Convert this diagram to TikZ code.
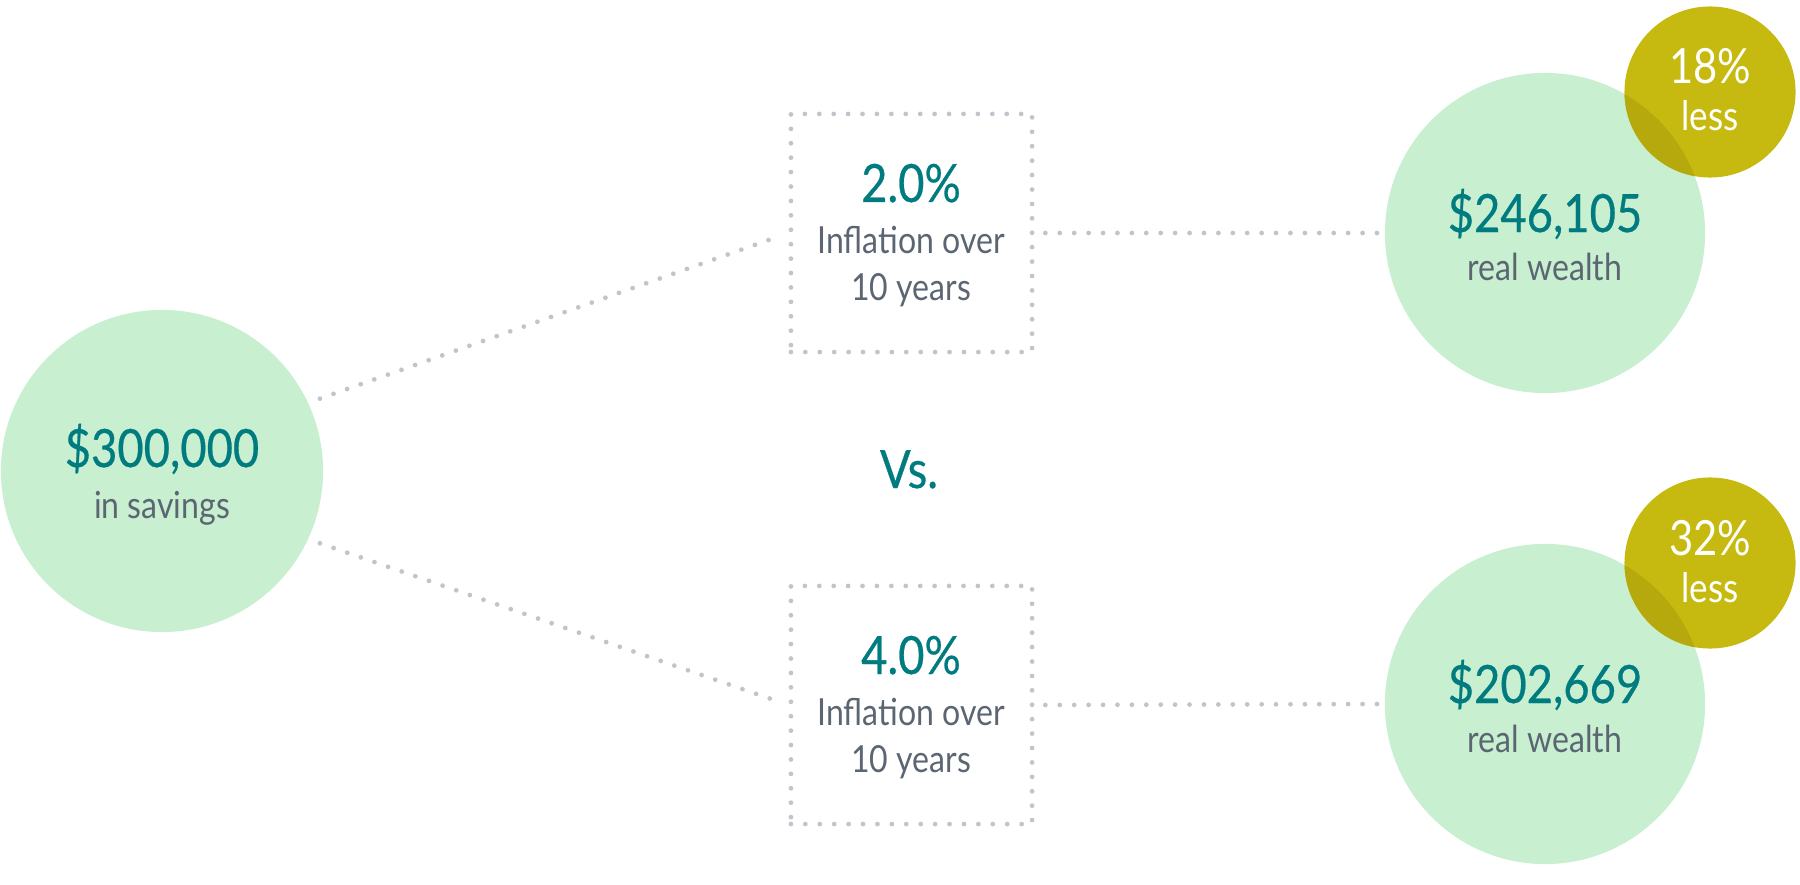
\documentclass[tikz,border=0pt]{standalone}
\usepackage{fontspec}
\setmainfont{Lato}[FakeStretch=0.86]
\newfontfamily\amountfont{Lato}[FakeStretch=0.86, FakeBold=0.5]
\usetikzlibrary{calc}
\definecolor{mintGreen}{HTML}{C8EFD0}
\definecolor{tealText}{HTML}{007B7F}
\definecolor{slateText}{HTML}{5B6672}
\definecolor{oliveYellow}{HTML}{C6BA10}
\definecolor{oliveDark}{HTML}{B5A90D}
\definecolor{dotGray}{HTML}{C0C4CC}

\begin{document}
\begin{tikzpicture}[x=0.01cm, y=-0.01cm,
    amount/.style={font=\amountfont\fontsize{15}{16}\selectfont, text=tealText, anchor=base, inner sep=0pt},
    caption/.style={font=\fontsize{10.6}{12}\selectfont, text=slateText, anchor=base, inner sep=0pt},
    badgenum/.style={font=\fontsize{13.8}{15}\selectfont, text=white, anchor=base, inner sep=0pt},
    badgetext/.style={font=\fontsize{11.6}{13}\selectfont, text=white, anchor=base, inner sep=0pt},
    wealth/.style={circle, fill=mintGreen, inner sep=0pt},
    badge/.style={circle, fill=oliveYellow, inner sep=0pt, minimum size=1.71cm},
    dotline/.style={draw=dotGray, line width=1.35pt, line cap=round, dash pattern=on 0pt off 4.1pt},
    ratebox/.style={dotline, rectangle, minimum width=2.41cm, minimum height=2.38cm, inner sep=0pt}]
    \useasboundingbox (0,0) rectangle (1800,885);

    % circles
    \node[wealth, minimum size=3.22cm] (save) at (162,471) {};
    \node[wealth, minimum size=3.2cm] (high) at (1545,233) {};
    \node[wealth, minimum size=3.2cm] (low) at (1545,704) {};
    \node[badge] (cutHigh) at (1710,92) {};
    \node[badge] (cutLow) at (1710,563) {};
    \begin{scope}
        \clip (high.center) circle (160);
        \fill[oliveDark] (cutHigh.center) circle (85.5);
    \end{scope}
    \begin{scope}
        \clip (low.center) circle (160);
        \fill[oliveDark] (cutLow.center) circle (85.5);
    \end{scope}

    % inflation boxes
    \node[ratebox] (rateHigh) at (911.5,233) {};
    \node[ratebox] (rateLow) at (911.5,705) {};

    % connectors
    \draw[dotline, shorten <=3.4pt, shorten >=2pt] (save.25) -- (rateHigh.west);
    \draw[dotline, shorten <=3.4pt, shorten >=2pt] (save.-25) -- (rateLow.west);
    \draw[dotline, shorten <=3.1pt, shorten >=0.5pt] (rateHigh.east) -- (high.west);
    \draw[dotline, shorten <=3.1pt, shorten >=0.5pt] (rateLow.east) -- (low.west);

    % texts
    \node[amount] (saveNum) at ($(save)+(0,-4)$) {\$300,000};
    \node[caption] (saveTxt) at ($(save)+(0,47)$) {in savings};
    \node[amount] (rateHighNum) at (911,202) {2.0\%};
    \node[caption] (rateHighTxt) at (911,253) {Inflation over};
    \node[caption] (rateHighYrs) at (911,300) {10 years};
    \node[amount] (rateLowNum) at (911,674) {4.0\%};
    \node[caption] (rateLowTxt) at (911,725) {Inflation over};
    \node[caption] (rateLowYrs) at (911,772) {10 years};
    \node[amount] (versus) at (909,488) {Vs.};
    \node[amount] (highNum) at ($(high)+(0,-1)$) {\$246,105};
    \node[caption] (highTxt) at ($(high)+(0,48)$) {real wealth};
    \node[amount] (lowNum) at ($(low)+(0,-1)$) {\$202,669};
    \node[caption] (lowTxt) at ($(low)+(0,48)$) {real wealth};
    \node[badgenum] (cutHighNum) at ($(cutHigh)+(0,-8)$) {18\%};
    \node[badgetext] (cutHighTxt) at ($(cutHigh)+(0,39)$) {less};
    \node[badgenum] (cutLowNum) at ($(cutLow)+(0,-8)$) {32\%};
    \node[badgetext] (cutLowTxt) at ($(cutLow)+(0,39)$) {less};
\end{tikzpicture}
\end{document}
